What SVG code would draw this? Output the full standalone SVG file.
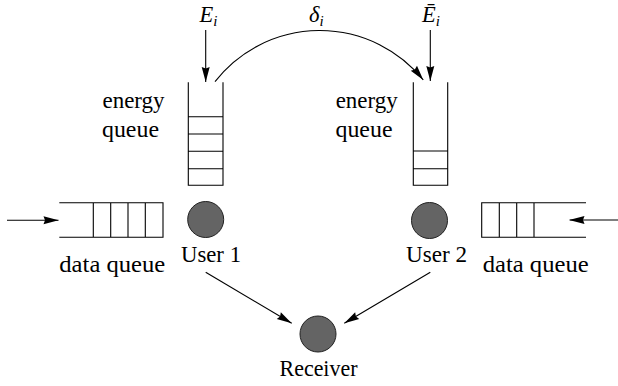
<svg xmlns="http://www.w3.org/2000/svg" width="618" height="386" viewBox="0 0 618 386">
<style>
.ln{stroke:#000;stroke-width:1.1;fill:none}
.node{fill:#646464;stroke:#222;stroke-width:1}
.t{font-size:22.5px;fill:#000}
.m{font-style:italic;fill:#000}
</style>
<defs>
<marker id="arr" markerUnits="userSpaceOnUse" markerWidth="16" markerHeight="10" viewBox="-16 -5 16 10" refX="0" refY="0" orient="auto">
<path d="M0,0 L-15,-4 L-13.5,0 L-15,4 Z" fill="#000"/>
</marker>
</defs>
<rect width="618" height="386" fill="#fff"/>
<g font-family="Times New Roman, Liberation Serif, Times, DejaVu Serif, Noto Serif, serif">
<g id="energy-queue-1">
<path class="ln" d="M188.3,82.3 V185.3 H223 V82.3 M188.3,116.7 H223 M188.3,134 H223 M188.3,151.3 H223 M188.3,168.7 H223"/>
<text class="t" x="102.5" y="108" textLength="62" lengthAdjust="spacingAndGlyphs">energy</text>
<text class="t" x="102" y="137" textLength="57" lengthAdjust="spacingAndGlyphs">queue</text>
</g>
<g id="energy-queue-2">
<path class="ln" d="M413.3,82.3 V185.3 H447.7 V82.3 M413.3,151 H447.7 M413.3,168.7 H447.7"/>
<text class="t" x="335.7" y="108" textLength="62" lengthAdjust="spacingAndGlyphs">energy</text>
<text class="t" x="335.5" y="137" textLength="57" lengthAdjust="spacingAndGlyphs">queue</text>
</g>
<g id="data-queue-1">
<path class="ln" d="M59.3,202.7 H163 V237.3 H59.3 M93.3,202.7 V237.3 M110.7,202.7 V237.3 M128,202.7 V237.3 M145.3,202.7 V237.3"/>
<text class="t" x="59.3" y="271.7" textLength="106" lengthAdjust="spacingAndGlyphs">data queue</text>
</g>
<g id="data-queue-2">
<path class="ln" d="M586,202.7 H481.7 V237.3 H586 M499.3,202.7 V237.3 M516.7,202.7 V237.3 M534,202.7 V237.3"/>
<text class="t" x="482.7" y="271.7" textLength="106" lengthAdjust="spacingAndGlyphs">data queue</text>
</g>
<g id="user-1">
<circle class="node" cx="205.7" cy="219.5" r="18"/>
<text class="t" x="181" y="262.3" textLength="60" lengthAdjust="spacingAndGlyphs">User 1</text>
</g>
<g id="user-2">
<circle class="node" cx="429.5" cy="220.5" r="18"/>
<text class="t" x="406" y="262.3" textLength="61" lengthAdjust="spacingAndGlyphs">User 2</text>
</g>
<g id="receiver">
<circle class="node" cx="318" cy="334" r="18"/>
<text class="t" x="318.5" y="376" text-anchor="middle" textLength="78" lengthAdjust="spacingAndGlyphs">Receiver</text>
</g>
<g id="labels">
<text class="m" x="199.5" y="21.5" font-size="22.5">E<tspan font-size="15" dy="4">i</tspan></text>
<text class="m" x="309" y="21.5" font-size="22.5">δ<tspan font-size="15" dy="4">i</tspan></text>
<text class="m" x="422" y="21.5" font-size="22.5">Ē<tspan font-size="15" dy="4">i</tspan></text>
</g>
</g>
<g id="connectors">
<path class="ln" marker-end="url(#arr)" d="M205.7,30 V82"/>
<path class="ln" marker-end="url(#arr)" d="M430.3,30 V81"/>
<path class="ln" marker-end="url(#arr)" d="M215,81.7 A133,133 0 0 1 423.3,80"/>
<path class="ln" marker-end="url(#arr)" d="M7,220.3 H58.5"/>
<path class="ln" marker-end="url(#arr)" d="M618,220 H569.5"/>
<path class="ln" marker-end="url(#arr)" d="M205.7,272.3 L291.7,323.3"/>
<path class="ln" marker-end="url(#arr)" d="M430.3,272.3 L344.3,323.3"/>
</g>
</svg>
